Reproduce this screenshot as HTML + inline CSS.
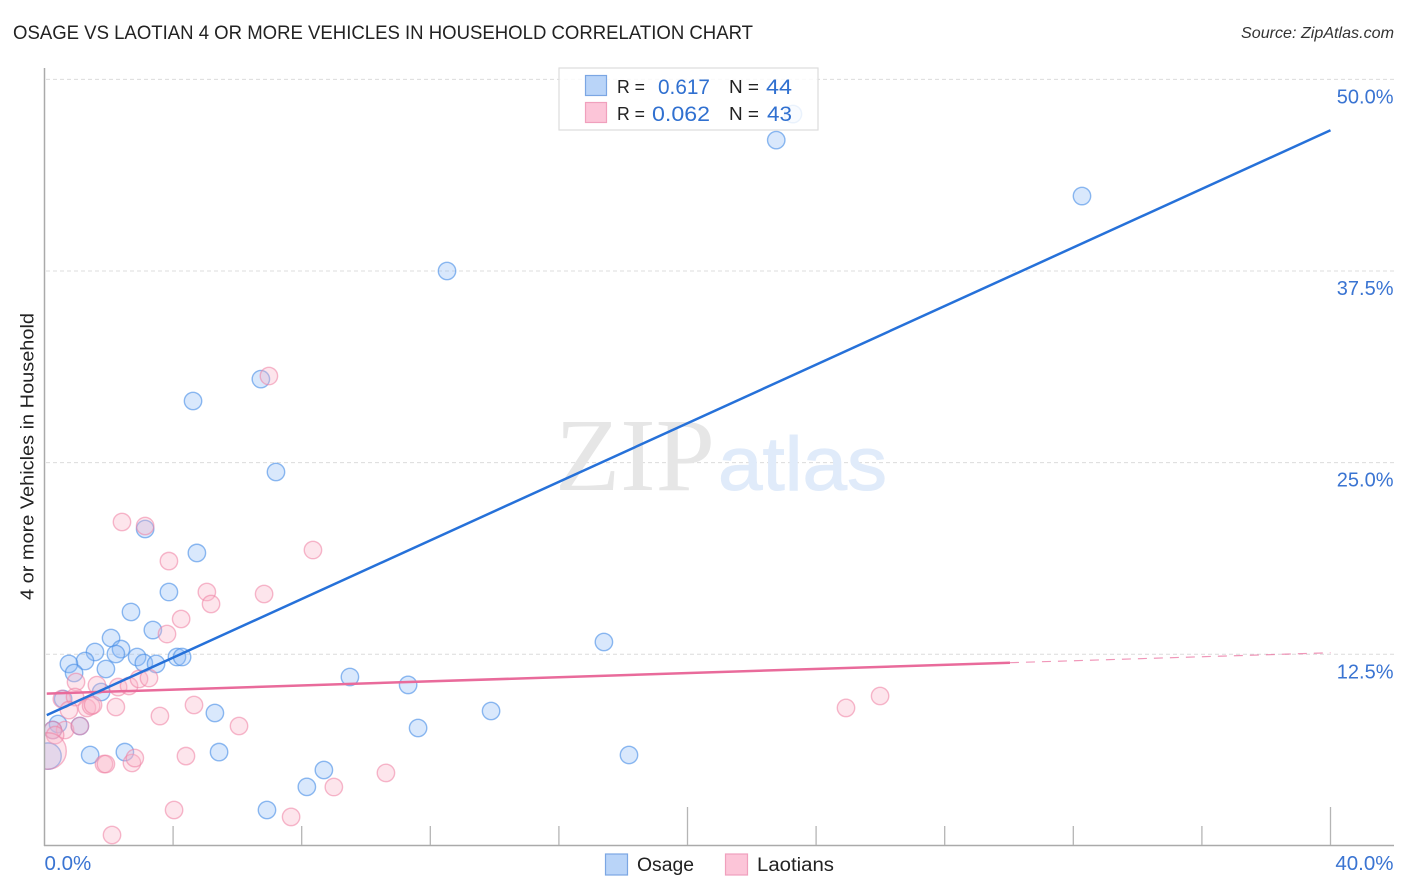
<!DOCTYPE html>
<html lang="en">
<head>
<meta charset="utf-8">
<title>Osage vs Laotian 4 or more Vehicles in Household Correlation Chart</title>
<style>
html,body{margin:0;padding:0;background:#fff;width:1406px;height:892px;overflow:hidden}
svg{display:block;font-family:"Liberation Sans",Arial,sans-serif}
</style>
</head>
<body>
<svg id="chart" xmlns="http://www.w3.org/2000/svg" width="1406" height="892" viewBox="0 0 1406 892">
  <defs>
    <clipPath id="plot-clip"><rect x="45" y="60" width="1349" height="786"/></clipPath>
  </defs>
  <rect x="0" y="0" width="1406" height="892" fill="#ffffff"/>
  <text x="13" y="39" font-size="19" fill="#222" textLength="740" lengthAdjust="spacingAndGlyphs">OSAGE VS LAOTIAN 4 OR MORE VEHICLES IN HOUSEHOLD CORRELATION CHART</text>
  <text x="1241" y="38" font-size="16" font-style="italic" fill="#333" textLength="153" lengthAdjust="spacingAndGlyphs">Source: ZipAtlas.com</text>
  <g id="grid"></g>
  <g>
    <text x="555" y="490" font-family="'Liberation Serif',serif" font-size="104" fill="#e6e6e6" textLength="160" lengthAdjust="spacingAndGlyphs">ZIP</text>
    <text x="718" y="490" font-size="76" fill="#e0ebfa" stroke="#e0ebfa" stroke-width="1" textLength="169" lengthAdjust="spacingAndGlyphs">atlas</text>
  </g>
  <g id="osage-points" clip-path="url(#plot-clip)"></g>
  <g id="laotian-points" clip-path="url(#plot-clip)"></g>
  <g id="trends"></g>
  <g id="axes"></g>
  <text transform="translate(33.5,456.5) rotate(-90)" font-size="18.5" fill="#222" text-anchor="middle" textLength="287" lengthAdjust="spacingAndGlyphs">4 or more Vehicles in Household</text>

  <g>
    <rect x="559" y="68" width="259" height="62" fill="#ffffff" fill-opacity="0.82" stroke="#dddddd" stroke-width="1.2"/>
    <rect x="585.5" y="75.5" width="21" height="20" fill="#b9d4f8" stroke="#7ba6e3" stroke-width="1.2"/>
    <rect x="585.5" y="102.5" width="21" height="20" fill="#fcc5d8" stroke="#f0a0bd" stroke-width="1.2"/>
    <text x="617" y="93" font-size="18.5" fill="#222" textLength="28" lengthAdjust="spacingAndGlyphs">R =</text>
    <text x="658" y="94" font-size="21" fill="#3070d0" textLength="52" lengthAdjust="spacingAndGlyphs">0.617</text>
    <text x="729" y="93" font-size="18.5" fill="#222" textLength="30" lengthAdjust="spacingAndGlyphs">N =</text>
    <text x="766" y="94" font-size="21.5" fill="#3070d0" textLength="26" lengthAdjust="spacingAndGlyphs">44</text>
    <text x="617" y="120" font-size="18.5" fill="#222" textLength="28" lengthAdjust="spacingAndGlyphs">R =</text>
    <text x="652" y="121" font-size="21" fill="#3070d0" textLength="58" lengthAdjust="spacingAndGlyphs">0.062</text>
    <text x="729" y="120" font-size="18.5" fill="#222" textLength="30" lengthAdjust="spacingAndGlyphs">N =</text>
    <text x="767" y="121" font-size="21.5" fill="#3070d0" textLength="25" lengthAdjust="spacingAndGlyphs">43</text>
  </g>

  <g>
    <rect x="605.5" y="854" width="22" height="21" fill="#b9d4f8" stroke="#7ba6e3" stroke-width="1.2"/>
    <text x="637" y="871" font-size="19" fill="#222" textLength="57" lengthAdjust="spacingAndGlyphs">Osage</text>
    <rect x="725.5" y="854" width="22" height="21" fill="#fcc5d8" stroke="#f0a0bd" stroke-width="1.2"/>
    <text x="757" y="871" font-size="19" fill="#222" textLength="77" lengthAdjust="spacingAndGlyphs">Laotians</text>
  </g>
</svg>

<script>
const osageX = [22.76,23.28,32.27,12.52,4.62,6.73,7.20,3.13,4.74,3.87,2.69,3.37,2.07,1.57,2.38,2.22,1.26,0.76,0.92,2.88,3.09,3.47,1.91,4.12,4.28,1.76,0.58,0.42,0.26,1.10,9.50,11.31,17.40,13.89,11.62,5.30,5.43,2.50,1.42,18.18,8.69,8.16,6.92,0.11];
const osageY = [46.04,47.74,42.39,37.50,29.02,30.45,24.39,20.67,19.11,16.56,15.26,14.08,13.56,12.65,12.84,12.52,12.06,11.87,11.28,12.32,11.93,11.87,11.54,12.32,12.32,10.04,9.58,7.95,7.56,7.82,11.02,10.50,13.30,8.80,7.69,8.67,6.12,6.12,5.93,5.93,4.95,3.85,2.34,5.86];
const osageWeight = [1,1,1,1,1,1,1,1,1,1,1,1,1,1,1,1,1,1,1,1,1,1,1,1,1,1,1,1,1,1,1,1,1,1,1,1,1,1,1,1,1,1,1,2.3];
const laotianX = [2.41,3.13,3.87,5.05,5.18,4.25,3.81,6.83,8.35,0.98,1.63,2.29,2.63,2.94,3.25,0.54,0.95,0.76,1.32,1.45,1.51,2.22,3.59,4.65,6.05,0.64,1.10,0.26,0.33,0.11,1.85,1.91,2.72,2.81,4.40,9.00,7.67,4.03,2.10,6.98,10.62,25.99,24.93];
const laotianY = [21.13,20.87,18.58,16.56,15.78,14.80,13.82,16.43,19.30,10.69,10.49,10.36,10.43,10.89,10.95,9.58,9.71,8.86,9.00,9.13,9.19,9.06,8.47,9.19,7.82,7.56,7.82,7.56,7.23,6.19,5.34,5.34,5.41,5.73,5.86,3.84,1.89,2.34,0.71,30.65,4.76,9.78,9.00];
const laotianWeight = [1,1,1,1,1,1,1,1,1,1,1,1,1,1,1,1,1,1,1,1,1,1,1,1,1,1,1,1,1,4.4,1,1,1,1,1,1,1,1,1,1,1,1,1];
const osageTrendX = [0.07,40];
const osageTrendY = [8.53,46.68];
const laotianSolidX = [0.07,30.03];
const laotianSolidY = [9.93,11.95];
const laotianDashX = [30.03,40];
const laotianDashY = [11.95,12.6];
const yTickValues = [12.5,25,37.5,50];
const yTickLabels = ["12.5%","25.0%","37.5%","50.0%"];
const xTickValues = [0,4,8,12,16,20,24,28,32,36,40];
const xMajorTicks = [20,40];
const xEndValues = [0,40];
const xEndLabels = ["0.0%","40.0%"];

const NS = "http://www.w3.org/2000/svg";
function xPos(v){ return 44.5 + 32.15 * v; }
function yPos(v){ return 845.9 - 15.33 * v; }
function make(tag, parent, attrs){
  const el = document.createElementNS(NS, tag);
  for (const k in attrs) el.setAttribute(k, attrs[k]);
  parent.appendChild(el);
  return el;
}

const grid = document.getElementById("grid");
const axes = document.getElementById("axes");
yTickValues.forEach(function(v, i){
  const line = make("line", grid, {x1:46, x2:1394, y1:yPos(v), y2:yPos(v), stroke:"#dcdcdc", "stroke-width":1, "stroke-dasharray":"4 3"});
  
  
  const label = make("text", axes, {x:1393.5, y:yPos(v)+24, "font-size":20, fill:"#3a74d2", "text-anchor":"end"});
  label.textContent = yTickLabels[i];
  
  
});

const yAxis = make("line", axes, {x1:44.5, x2:44.5, y1:68, y2:846, stroke:"#aaaaaa", "stroke-width":1.5});


const xAxis = make("line", axes, {x1:44, x2:1394, y1:845.5, y2:845.5, stroke:"#aaaaaa", "stroke-width":1.5});



xTickValues.forEach(function(v){
  if (v === 0) return;
  const top = xMajorTicks.indexOf(v) >= 0 ? 807 : 826;
  const tick = make("line", axes, {x1:xPos(v), x2:xPos(v), y1:top, y2:845, stroke:"#b5b5b5", "stroke-width":1.3});
  
  
});
xEndValues.forEach(function(v, i){
  const label = make("text", axes, {x: i === 0 ? xPos(v) : 1393.5, y:870, "font-size":20.5, fill:"#3a74d2", "text-anchor": i === 0 ? "start" : "end"});
  label.textContent = xEndLabels[i];
  
  
});

const osageLayer = document.getElementById("osage-points");
osageX.forEach(function(v, i){
  const c = make("circle", osageLayer, {cx:xPos(v), cy:yPos(osageY[i]), r:8.7*Math.sqrt(osageWeight[i]), fill:"#8ab8f5", "fill-opacity":0.32, stroke:"#4a8fe6", "stroke-opacity":0.62, "stroke-width":1.4});
  
  
});
const laotianLayer = document.getElementById("laotian-points");
laotianX.forEach(function(v, i){
  const c = make("circle", laotianLayer, {cx:xPos(v), cy:yPos(laotianY[i]), r:8.7*Math.sqrt(laotianWeight[i]), fill:"#f9b4c8", "fill-opacity":0.34, stroke:"#ee7fa3", "stroke-opacity":0.55, "stroke-width":1.4});
  
  
});

const trends = document.getElementById("trends");
const laotianSolid = make("line", trends, {x1:xPos(laotianSolidX[0]), y1:yPos(laotianSolidY[0]), x2:xPos(laotianSolidX[1]), y2:yPos(laotianSolidY[1]), stroke:"#e96b9b", "stroke-width":2.5});


const laotianDash = make("line", trends, {x1:xPos(laotianDashX[0]), y1:yPos(laotianDashY[0]), x2:xPos(laotianDashX[1]), y2:yPos(laotianDashY[1]), stroke:"#e96b9b", "stroke-opacity":0.7, "stroke-width":1.2, "stroke-dasharray":"9 7"});


const osageTrend = make("line", trends, {x1:xPos(osageTrendX[0]), y1:yPos(osageTrendY[0]), x2:xPos(osageTrendX[1]), y2:yPos(osageTrendY[1]), stroke:"#2671d9", "stroke-width":2.5});


</script>
</body>
</html>
